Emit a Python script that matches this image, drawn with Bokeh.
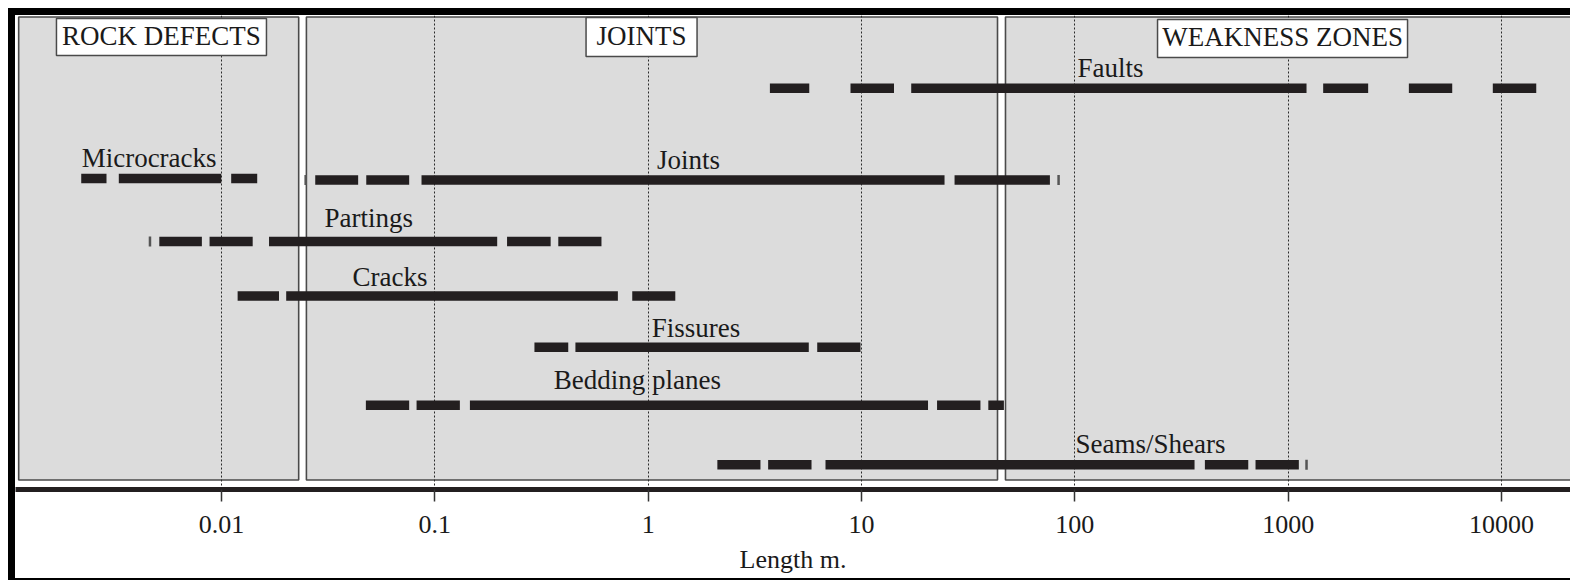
from bokeh.plotting import figure
from bokeh.models import Range1d, FixedTicker, ColumnDataSource
from bokeh.core.properties import value
from bokeh.embed import file_html
from bokeh.resources import INLINE

# ---------------- data (lengths in metres) ----------------
zone_names = ["ROCK DEFECTS", "JOINTS", "WEAKNESS ZONES"]
zone_from = [0.00112, 0.0250, 47.3]
zone_to = [0.0230, 43.4, 1.0e6]
zone_title_at = [0.00523, 0.931, 941.0]

feature_names = ["Faults", "Microcracks", "Joints", "Partings", "Cracks",
                 "Fissures", "Bedding planes", "Seams/Shears"]
faults = [(3.72, 5.69), (8.88, 14.2), (17.1, 1219), (1459, 2371), (3679, 5875), (9103, 14550)]
microcracks = [(0.00220, 0.00289), (0.00330, 0.00997), (0.0111, 0.0147)]
joints = [(0.0275, 0.0437), (0.0477, 0.0758), (0.0866, 24.5), (27.3, 76.4)]
partings = [(0.00511, 0.00809), (0.00879, 0.0140), (0.0167, 0.196), (0.218, 0.349), (0.379, 0.604)]
cracks = [(0.0119, 0.0186), (0.0201, 0.721), (0.842, 1.34)]
fissures = [(0.293, 0.422), (0.456, 5.66), (6.20, 9.89)]
bedding_planes = [(0.0475, 0.0758), (0.0821, 0.131), (0.146, 20.5), (22.6, 36.1), (39.3, 46.5)]
seams_shears = [(2.11, 3.36), (3.65, 5.83), (6.78, 364), (407, 650), (703, 1122)]
feature_segments = [faults, microcracks, joints, partings, cracks, fissures, bedding_planes, seams_shears]

end_mark_feature = ["Partings", "Joints", "Joints", "Seams/Shears"]
end_mark_at = [0.00462, 0.0248, 83.9, 1219]

label_at = [103, 0.00221, 1.10, 0.0304, 0.0411, 1.04, 0.361, 100.7]

tick_values = [0.01, 0.1, 1, 10, 100, 1000, 10000]
tick_labels = ["0.01", "0.1", "1", "10", "100", "1000", "10000"]

# ---------------- layout (vertical positions in frame pixels) ----------------
row_y = [87.7, 178.0, 179.5, 241.0, 295.5, 346.7, 404.7, 464.3]
label_baseline = [77.7, 167.5, 169.0, 227.0, 286.0, 337.3, 389.3, 453.0]
BASELINE_FIX = 10  # svg text sits lower than requested baseline
zone_top = 16.5
zone_bottom = 479.5
title_y = [36.5, 36.5, 38.0]
title_w = [210, 111, 250]
title_h = [37, 39, 38]

SERIF = value("Liberation Serif")
INK = "#231f20"

p = figure(width=1555, height=563, x_axis_type="log",
           x_range=Range1d(10 ** -2.9657, 10 ** 4.3234),
           y_range=Range1d(489, 15),
           y_axis_location=None,
           output_backend="svg", toolbar_location=None,
           min_border_left=0, min_border_right=0, min_border_top=0,
           min_border_bottom=89)
# black frame round the picture drawn as shadows (they do not change the layout)
p.styles = {"margin-left": "15px", "margin-top": "15px",
            "box-shadow": ("-7px 0 0 0 #000, 0 -7px 0 0 #000, -7px -7px 0 0 #000, "
                           "0 2px 0 0 #000, -7px 2px 0 0 #000")}
p.outline_line_color = None
p.background_fill_color = "white"
p.border_fill_color = "white"

# zones
zsrc = ColumnDataSource(dict(left=zone_from, right=zone_to,
                             top=[zone_top] * 3, bottom=[zone_bottom] * 3))
zr = p.quad(left="left", right="right", top="top", bottom="bottom", source=zsrc,
            fill_color="#dcdcdc", line_color="#4a4a4a", line_width=1.6)
zr.level = "image"

# grid + axis
ticker = FixedTicker(ticks=tick_values)
p.xaxis.ticker = ticker
p.xgrid.ticker = ticker
p.ygrid.visible = False
p.xgrid.grid_line_color = "#2a2a2a"
p.xgrid.grid_line_dash = "2 2"
p.xgrid.grid_line_width = 1
p.xaxis.major_label_overrides = dict(zip(tick_values, tick_labels))
p.xaxis.axis_label = "Length m."
p.xaxis.axis_label_text_font = "Liberation Serif"
p.xaxis.axis_label_text_font_style = "normal"
p.xaxis.axis_label_text_font_size = "26px"
p.xaxis.axis_label_text_color = "#1a1a1a"
p.xaxis.axis_label_standoff = 9
p.xaxis.major_label_text_font = "Liberation Serif"
p.xaxis.major_label_text_font_size = "26px"
p.xaxis.major_label_text_color = "#1a1a1a"
p.xaxis.major_label_standoff = 14
p.xaxis.axis_line_width = 5
p.xaxis.axis_line_color = INK
p.xaxis.major_tick_in = 0
p.xaxis.major_tick_out = 12
p.xaxis.major_tick_line_color = "#333333"
p.xaxis.major_tick_line_width = 1.5
p.xaxis.minor_tick_line_color = None

# bars
x0, x1, ys = [], [], []
for segs, y in zip(feature_segments, row_y):
    for a, b in segs:
        x0.append(a)
        x1.append(b)
        ys.append(y)
p.segment(x0=x0, y0=ys, x1=x1, y1=ys, line_width=9.5, line_color=INK, line_cap="butt")

# end marks
mark_y = [row_y[feature_names.index(f)] for f in end_mark_feature]
p.rect(x=end_mark_at, y=mark_y, width=2.5, height=10, width_units="screen",
       height_units="screen", fill_color="#555555", line_color=None)

# feature labels
p.text(x=label_at, y=[b - BASELINE_FIX for b in label_baseline], text=feature_names,
       text_font=SERIF, text_font_size="27px", text_color="#1a1a1a",
       text_align="left", text_baseline="alphabetic")

# zone titles
p.rect(x=zone_title_at, y=title_y, width=title_w, height=title_h,
       width_units="screen", height_units="screen",
       fill_color="white", line_color="#4a4a4a", line_width=1.5)
p.text(x=zone_title_at, y=[t + 8.5 - BASELINE_FIX for t in title_y], text=zone_names,
       text_font=SERIF, text_font_size="27px", text_color="#1a1a1a",
       text_align="center", text_baseline="alphabetic")

open("out.html", "w").write(file_html(p, INLINE))
